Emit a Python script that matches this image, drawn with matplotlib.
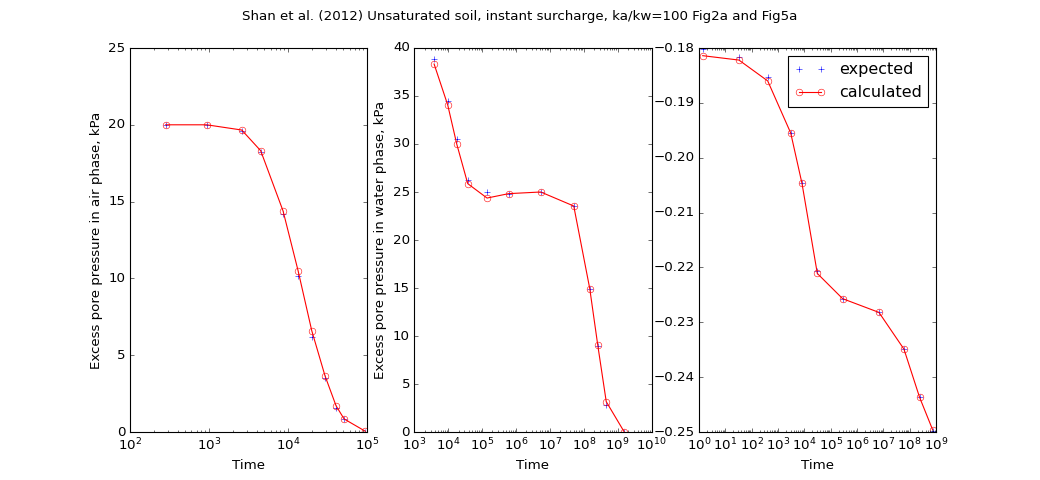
import numpy as np
import matplotlib
matplotlib.use("Agg")
import matplotlib.pyplot as plt

plt.style.use("classic")

# ------------------------------------------
# Data
# ------------------------------------------
# air phase (Fig2a left)
t_air = [283, 935, 2595, 4510, 8650, 13400, 19950, 29400, 40500, 51200, 95000]
ua_expected = [20.0, 20.0, 19.6, 18.25, 14.2, 10.16, 6.16, 3.5, 1.56, 0.85, 0.02]
ua_calculated = [20.0, 20.0, 19.66, 18.31, 14.39, 10.5, 6.6, 3.65, 1.71, 0.85, 0.05]

# water phase
t_water = [3800, 9600, 17700, 37400, 139000, 608000, 5.35e6, 5.05e7, 1.5e8, 2.57e8, 4.6e8, 1.55e9]
uw_expected = [38.9, 34.5, 30.5, 26.3, 25.0, 24.8, 25.0, 23.5, 14.9, 9.0, 2.8, 0.0]
uw_calculated = [38.33, 34.06, 30.0, 25.87, 24.37, 24.83, 25.0, 23.54, 14.93, 9.1, 3.16, 0.03]

# settlement (Fig5a)
t_settle = [1.39, 33, 408, 3050, 8180, 31200, 286000, 6.84e6, 6.08e7, 2.39e8, 7.46e8]
s_expected = [-0.1802, -0.1816, -0.1853, -0.1955, -0.2047, -0.2206, -0.2257, -0.2282, -0.2349, -0.2437, -0.2498]
s_calculated = [-0.1814, -0.1822, -0.1860, -0.1955, -0.2047, -0.2211, -0.2257, -0.2282, -0.2349, -0.2437, -0.2496]

title = "Shan et al. (2012) Unsaturated soil, instant surcharge, ka/kw=100 Fig2a and Fig5a"

# ------------------------------------------
# Plot
# ------------------------------------------
fig, axes = plt.subplots(1, 3, figsize=(13, 6), dpi=80)
fig.patch.set_facecolor("white")
fig.suptitle(title)

panels = [
    (t_air, ua_expected, ua_calculated, "Excess pore pressure in air phase, kPa", (1e2, 1e5), (0, 25)),
    (t_water, uw_expected, uw_calculated, "Excess pore pressure in water phase, kPa", (1e3, 1e10), (0, 40)),
    (t_settle, s_expected, s_calculated, None, (1e0, 1e9), (-0.25, -0.18)),
]

for ax, (t, exp, calc, ylab, xl, yl) in zip(axes, panels):
    ax.plot(t, exp, "b+", ls="none", label="expected")
    ax.plot(t, calc, "r-o", mfc="none", mec="r", label="calculated")
    ax.set_xscale("log")
    ax.set_xlim(*xl)
    ax.set_ylim(*yl)
    ax.set_xlabel("Time")
    if ylab:
        ax.set_ylabel(ylab)

axes[2].legend(loc="upper right", numpoints=2)

plt.savefig("out.png", dpi=80, facecolor="white")
